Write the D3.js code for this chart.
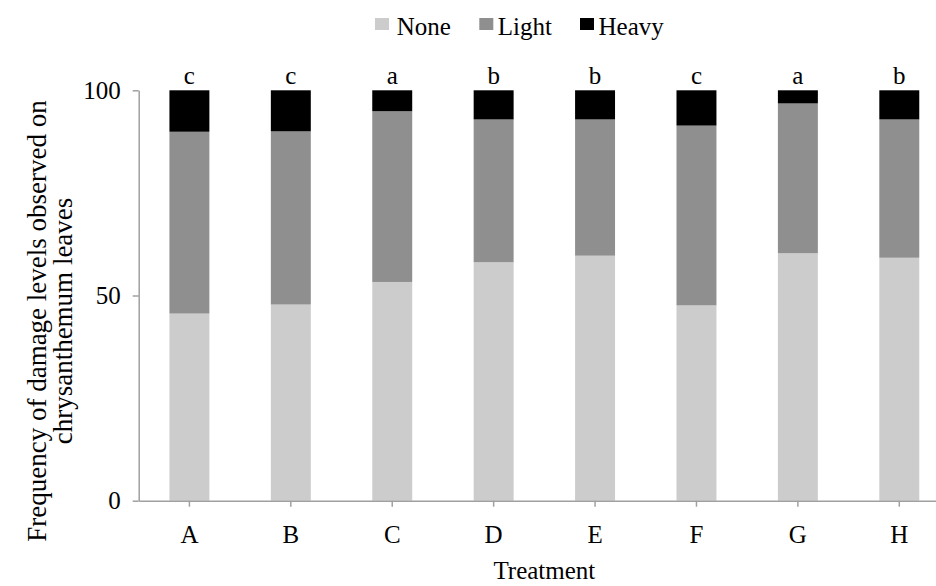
<!DOCTYPE html>
<html>
<head>
<meta charset="utf-8">
<script src="https://cdnjs.cloudflare.com/ajax/libs/d3/7.8.5/d3.min.js"></script>
<style>
  body { margin: 0; background: #fff; }
  text { font-family: "Liberation Serif", "Times New Roman", serif; fill: #000; }
</style>
</head>
<body>
<svg id="chart"></svg>
<script>
// data
var treatments = ["A", "B", "C", "D", "E", "F", "G", "H"];
var levels = ["None", "Light", "Heavy"];
var noneVals  = [45.6, 47.8, 53.3, 58.1, 59.7, 47.6, 60.3, 59.2];
var lightVals = [44.3, 42.2, 41.6, 34.8, 33.2, 43.8, 36.5, 33.7];
var heavyVals = [10.1, 10.0, 5.1, 7.1, 7.1, 8.6, 3.2, 7.1];
var letters = ["c", "c", "a", "b", "b", "c", "a", "b"];
var yTicks = [0, 50, 100];

var svgWidth = 936;
var svgHeight = 586;
var colorArr = ["#cccccc", "#8f8f8f", "#000000"];
var axisColor = "#a0a0a0";

// table for the stack layout
var table = treatments.map(function(t, i) {
    return { t: t, None: noneVals[i], Light: lightVals[i], Heavy: heavyVals[i] };
});
var series = d3.stack().keys(levels)(table);

var svg = d3.select("#chart")
    .attr("width", svgWidth)
    .attr("height", svgHeight);

// plot runs past the right edge, as in the original crop
var x = d3.scaleBand()
    .domain(treatments)
    .range([138.7, 950])
    .paddingInner(0.606)
    .paddingOuter(0.303);

var y = d3.scaleLinear()
    .domain([0, 100])
    .range([500.7, 90.3]);

// bars
svg.append("g").selectAll("g")
    .data(series)
    .enter()
    .append("g")
    .attr("fill", function(d, i) { return colorArr[i]; })
    .selectAll("rect")
    .data(function(d) { return d; })
    .enter()
    .append("rect")
    .attr("x", function(d) { return x(d.data.t); })
    .attr("width", x.bandwidth())
    .attr("y", function(d) { return y(d[1]); })
    .attr("height", function(d) { return y(d[0]) - y(d[1]); });

// significance letters
svg.append("g").selectAll("text")
    .data(treatments)
    .enter()
    .append("text")
    .attr("x", function(d) { return x(d) + x.bandwidth() / 2; })
    .attr("y", y(100) - 6.5)
    .attr("text-anchor", "middle")
    .attr("font-size", 25)
    .text(function(d, i) { return letters[i]; });

// y axis
var yAxis = svg.append("g")
    .attr("transform", "translate(138.7,0)")
    .call(d3.axisLeft(y).tickValues(yTicks).tickSize(6).tickSizeOuter(0).tickPadding(12));

// x axis
var xAxis = svg.append("g")
    .attr("transform", "translate(0," + y(0) + ")")
    .call(d3.axisBottom(x).tickSize(6).tickSizeOuter(0).tickPadding(18.5));

[yAxis, xAxis].forEach(function(a) {
    a.select(".domain").attr("stroke", axisColor).attr("stroke-width", 1.5);
    a.selectAll(".tick line").attr("stroke", axisColor).attr("stroke-width", 1.5);
    a.selectAll(".tick text")
        .attr("font-size", 25)
        .attr("font-family", "Liberation Serif")
        .attr("fill", "#000");
});

// axis titles
svg.append("text")
    .attr("x", (138.7 + 950) / 2)
    .attr("y", 579)
    .attr("text-anchor", "middle")
    .attr("font-size", 25)
    .text("Treatment");

var yTitle = svg.append("text")
    .attr("transform", "translate(0,321) rotate(-90)")
    .attr("text-anchor", "middle")
    .attr("font-size", 27);
yTitle.append("tspan").attr("x", 0).attr("y", 46).text("Frequency of damage levels observed on");
yTitle.append("tspan").attr("x", 0).attr("y", 72).text("chrysanthemum leaves");

// legend
var legendX = [375, 479.3, 580];
var legend = svg.append("g").selectAll("g")
    .data(levels)
    .enter()
    .append("g")
    .attr("transform", function(d, i) { return "translate(" + legendX[i] + ",0)"; });
legend.append("rect")
    .attr("x", 0)
    .attr("y", 18)
    .attr("width", 14)
    .attr("height", 12)
    .attr("fill", function(d, i) { return colorArr[i]; });
legend.append("text")
    .attr("x", function(d, i) { return i == 0 ? 21.7 : 18.5; })
    .attr("y", 35)
    .attr("font-size", 25)
    .text(function(d) { return d; });
</script>
</body>
</html>
